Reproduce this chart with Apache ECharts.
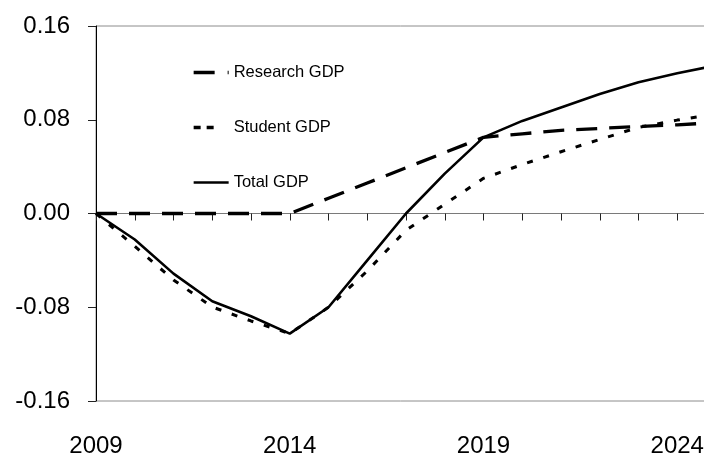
<!DOCTYPE html>
<html>
<head>
<meta charset="utf-8">
<script src="https://cdn.jsdelivr.net/npm/echarts@6/dist/echarts.min.js"></script>
<style>
  html, body { margin: 0; padding: 0; background: #fff; }
  #chart { width: 704px; height: 453px; }
</style>
</head>
<body>
<div id="chart"></div>
<script>
// Years on the horizontal axis
const years = [2009, 2010, 2011, 2012, 2013, 2014, 2015, 2016, 2017,
               2018, 2019, 2020, 2021, 2022, 2023, 2024, 2025];

// GDP effects by year
const researchGDP = [0, 0, 0, 0, 0, 0, 0.013, 0.026, 0.039,
                     0.052, 0.065, 0.068, 0.071, 0.0726, 0.0743, 0.0757, 0.0775];
const studentGDP  = [0, -0.028, -0.0567, -0.0798, -0.0917, -0.1025, -0.080, -0.049, -0.0143,
                     0.008, 0.030, 0.0418, 0.0527, 0.0632, 0.0735, 0.0797, 0.085];
const totalGDP    = [0, -0.0222, -0.0513, -0.0749, -0.0877, -0.1025, -0.080, -0.040, 0,
                     0.034, 0.065, 0.079, 0.0905, 0.102, 0.112, 0.1196, 0.1264];

// Axis ticks
const yTicks = [-0.16, -0.08, 0.00, 0.08, 0.16];
const xLabelYears = [2009, 2014, 2019, 2024];

const FONT = '"Liberation Sans", Arial, sans-serif';
const HIDDEN_MARK = { opacity: 0, color: 'rgba(0,0,0,0)', borderWidth: 0 };

function pairs(values) {
  return years.map((y, i) => [y, values[i]]);
}

const chart = echarts.init(document.getElementById('chart'), null, { renderer: 'canvas' });

chart.setOption({
  animation: false,
  backgroundColor: '#fff',
  color: ['#000', '#000', '#000'],
  grid: {
    left: 96, right: -12, top: 26, bottom: 52,
    outerBoundsMode: 'none', containLabel: false,
    show: true, borderColor: '#8c8c8c', borderWidth: 1, backgroundColor: 'transparent'
  },
  legend: {
    orient: 'vertical',
    left: 192, top: 64, padding: 0,
    itemWidth: 35, itemHeight: 14, itemGap: 38,
    lineStyle: { width: 3 },
    textStyle: { fontFamily: FONT, fontSize: 16.5, color: '#000' },
    data: [
      { name: 'Research GDP', itemStyle: HIDDEN_MARK,
        lineStyle: { color: '#000', width: 3.3, type: [21, 13] } },
      { name: 'Student GDP', itemStyle: HIDDEN_MARK,
        lineStyle: { color: '#000', width: 3.3, type: [7, 6, 7, 17] } },
      { name: 'Total GDP', itemStyle: HIDDEN_MARK,
        lineStyle: { color: '#000', width: 2.6, type: 'solid' } }
    ]
  },
  xAxis: [
    {
      // axis line through zero with yearly ticks
      type: 'value', min: years[0], max: years[years.length - 1], interval: 1,
      position: 'bottom',
      axisLine: { show: true, onZero: true, lineStyle: { color: '#7a7a7a', width: 1 } },
      axisTick: { show: true, inside: false, length: 7, lineStyle: { color: '#222', width: 1 } },
      axisLabel: { show: false },
      splitLine: { show: false }
    },
    {
      // year labels along the bottom edge
      type: 'value', min: years[0], max: years[years.length - 1], interval: 1,
      position: 'bottom',
      axisLine: { show: false, onZero: false },
      axisTick: { show: false },
      splitLine: { show: false },
      axisLabel: {
        show: true, margin: 33, fontFamily: FONT, fontSize: 24, color: '#000',
        formatter: v => (xLabelYears.indexOf(v) >= 0 ? String(v) : '')
      }
    }
  ],
  yAxis: {
    type: 'value', min: yTicks[0], max: yTicks[yTicks.length - 1], interval: 0.08,
    axisLine: { show: true, onZero: false, lineStyle: { color: '#000', width: 1 } },
    axisTick: { show: true, inside: false, length: 8, lineStyle: { color: '#222', width: 1 } },
    splitLine: { show: false },
    axisLabel: {
      margin: 26, fontFamily: FONT, fontSize: 24, color: '#000',
      formatter: v => v.toFixed(2)
    }
  },
  series: [
    {
      name: 'Research GDP', type: 'line', xAxisIndex: 0, data: pairs(researchGDP),
      symbol: 'none', z: 3, itemStyle: { color: '#000' },
      lineStyle: { color: '#000', width: 3.3, type: [21, 12] }
    },
    {
      name: 'Student GDP', type: 'line', xAxisIndex: 0, data: pairs(studentGDP),
      symbol: 'none', z: 2, itemStyle: { color: '#000' },
      lineStyle: { color: '#000', width: 3, type: [6, 11] }
    },
    {
      name: 'Total GDP', type: 'line', xAxisIndex: 0, data: pairs(totalGDP),
      symbol: 'none', z: 4, itemStyle: { color: '#000' },
      lineStyle: { color: '#000', width: 2.6, type: 'solid' }
    }
  ]
});
</script>
</body>
</html>
